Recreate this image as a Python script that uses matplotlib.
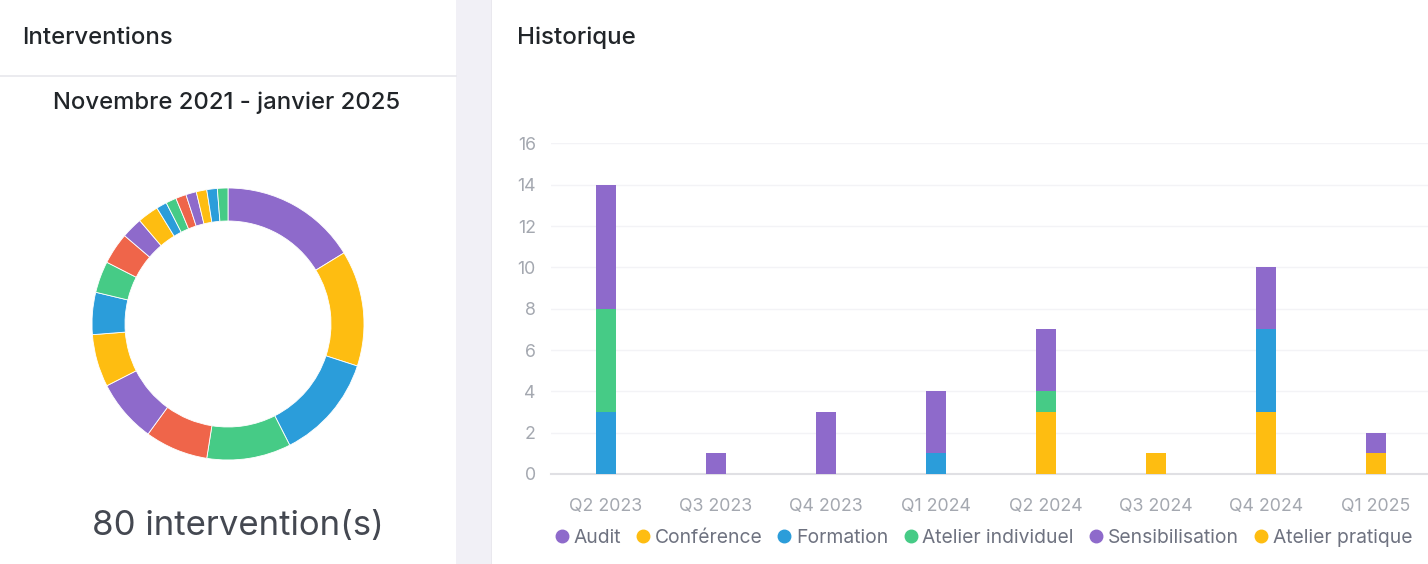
import matplotlib
matplotlib.use("Agg")
import matplotlib.pyplot as plt
from matplotlib.patches import Rectangle
from matplotlib.lines import Line2D
from matplotlib.transforms import blended_transform_factory
import numpy as np

# ---------------- data ----------------
donut_values = [13, 11, 10, 8, 6, 6, 5, 4, 3, 3, 2, 2, 1, 1, 1, 1, 1, 1, 1]
palette = ["#8E6ACB", "#FEBD11", "#2B9DDA", "#46CB86", "#EF654A"]

quarters = ["Q2 2023", "Q3 2023", "Q4 2023", "Q1 2024", "Q2 2024", "Q3 2024", "Q4 2024", "Q1 2025"]
series_names = ["Audit", "Conférence", "Formation", "Atelier individuel", "Sensibilisation", "Atelier pratique"]
audit = [0, 0, 0, 0, 0, 0, 0, 0]
conference = [0, 0, 0, 0, 3, 0, 3, 1]
formation = [3, 0, 0, 1, 0, 0, 4, 0]
atelier_individuel = [5, 0, 0, 0, 1, 0, 0, 0]
sensibilisation = [6, 1, 3, 3, 3, 0, 3, 1]
atelier_pratique = [0, 0, 0, 0, 0, 1, 0, 0]
series_colors = ["#8E6ACB", "#FEBD11", "#2B9DDA", "#46CB86", "#8E6ACB", "#FEBD11"]
y_ticks = [0, 2, 4, 6, 8, 10, 12, 14, 16]

total_text = "80 intervention(s)"
period_text = "Novembre 2021 - janvier 2025"

# ---------------- figure ----------------
W, H = 1428, 564
plt.rcParams["font.family"] = ["Inter", "DejaVu Sans"]
fig = plt.figure(figsize=(W / 100, H / 100), dpi=100)
fig.patch.set_facecolor("#F1F0F6")


def fx(px):
    return px / W


def fy(py):
    return 1 - py / H


# cards (drawn beneath axes)
fig.patches.append(Rectangle((0, 0), fx(456), 1, transform=fig.transFigure, facecolor="white",
                             edgecolor="none", zorder=-5))
fig.patches.append(Rectangle((fx(492), 0), 1 - fx(492), 1, transform=fig.transFigure, facecolor="white",
                             edgecolor="none", zorder=-5))
fig.patches.append(Rectangle((fx(491), 0), fx(1), 1, transform=fig.transFigure, facecolor="#E9E8EE",
                             edgecolor="none", zorder=-4))
fig.lines.append(Line2D([0, fx(456)], [fy(76), fy(76)], transform=fig.transFigure, color="#E8E8EC", lw=1.2,
                        zorder=-3))

fig.text(fx(22), fy(38), "Interventions", fontsize=17.2, fontweight="medium", color="#212529",
         va="center", ha="left")
fig.text(fx(227), fy(103), period_text, fontsize=17.2, fontweight="medium", color="#212529",
         va="center", ha="center")
fig.text(fx(238), fy(526), total_text, fontsize=25, color="#444851", va="center", ha="center")
fig.text(fx(517), fy(38), "Historique", fontsize=17.4, fontweight="medium", color="#212529",
         va="center", ha="left")

# donut
cx, cy, r_out, r_in = 228, 324, 136, 103
half = 145
axd = fig.add_axes([fx(cx - half), fy(cy + half), fx(2 * half), fy(cy - half) - fy(cy + half)])
lim = half / r_out
colors = [palette[i % len(palette)] for i in range(len(donut_values))]
axd.pie(donut_values, colors=colors, startangle=90, counterclock=False, radius=1,
        wedgeprops=dict(width=(r_out - r_in) / r_out, edgecolor="white", linewidth=0.6))
axd.set_xlim(-lim, lim)
axd.set_ylim(-lim, lim)
axd.set_aspect("equal")
axd.axis("off")

# bar chart
x0, x1 = 551, 1431
ytop, ybot = 143.5, 474
axb = fig.add_axes([fx(x0), fy(ybot), fx(x1 - x0), fy(ytop) - fy(ybot)])
axb.set_facecolor("none")
x = np.arange(len(quarters))
bottom = np.zeros(len(quarters))
all_series = [audit, conference, formation, atelier_individuel, sensibilisation, atelier_pratique]
for name, vals, col in zip(series_names, all_series, series_colors):
    vals = np.array(vals, dtype=float)
    axb.bar(x, vals, bottom=bottom, width=0.175, color=col, label=name, zorder=3)
    bottom += vals
axb.set_xlim(-0.5, len(quarters) - 0.5)
axb.set_ylim(0, 16)
axb.set_yticks(y_ticks)
axb.set_xticks(x)
axb.set_xticklabels(quarters)
for s in ["top", "right", "left"]:
    axb.spines[s].set_visible(False)
axb.spines["bottom"].set_color("#E0E0E4")
axb.spines["bottom"].set_linewidth(1.5)
axb.grid(axis="y", color="#F3F3F6", lw=1, zorder=0)
axb.tick_params(axis="both", length=0, labelsize=12.8, labelcolor="#A4A8B0")
axb.tick_params(axis="y", pad=11)
axb.tick_params(axis="x", pad=17)

handles = [Line2D([], [], marker="o", linestyle="none", markersize=9, markerfacecolor=c, markeredgecolor=c)
           for c in series_colors]
trans = blended_transform_factory(axb.transAxes, fig.transFigure)
leg = axb.legend(handles, series_names, loc="center", bbox_to_anchor=(0.4919, fy(538)), bbox_transform=trans,
                 ncol=6, frameon=False, fontsize=13.9, handlelength=0.62, handletextpad=0.31,
                 columnspacing=0.82, borderaxespad=0, borderpad=0)
for t in leg.get_texts():
    t.set_color("#6E7280")

fig.savefig("out.png", dpi=100, facecolor=fig.get_facecolor())
